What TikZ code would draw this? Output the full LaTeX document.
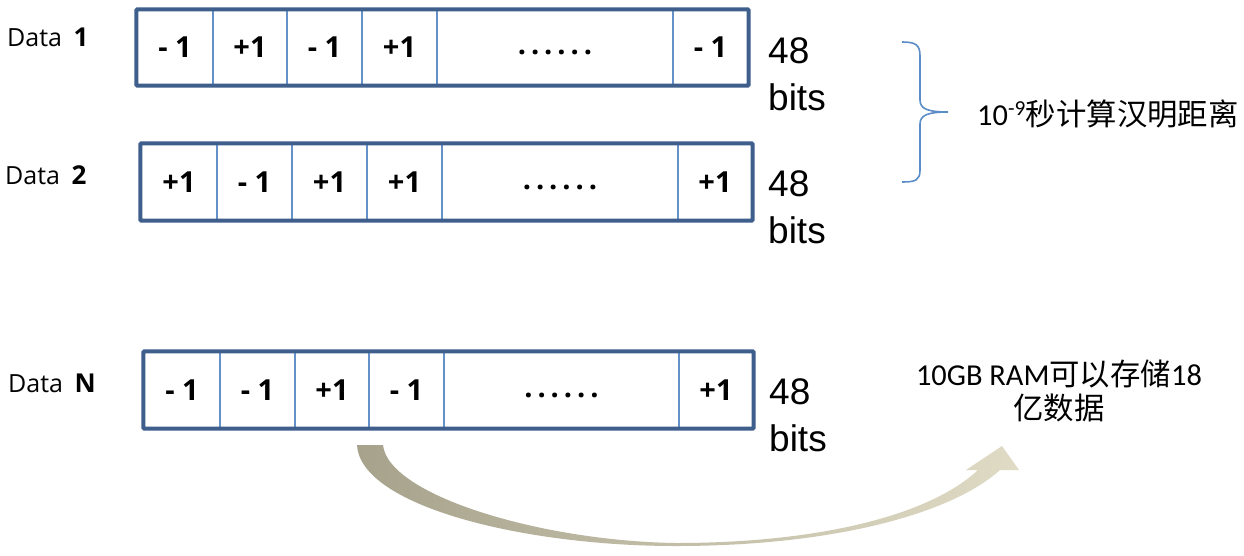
\documentclass[tikz,border=0pt]{standalone}
\usepackage{fontspec}
\newfontfamily\osans{Open Sans}
\newfontfamily\arialf{Liberation Sans}
\newfontfamily\calf{Carlito}
\newfontfamily\cjkf{Noto Sans CJK SC}
\newfontfamily\dotf[LetterSpace=17]{Open Sans}
\definecolor{boxblue}{RGB}{62,94,140}
\definecolor{divblue}{RGB}{100,145,200}
\definecolor{braceblue}{RGB}{91,141,201}
\definecolor{arrowL}{RGB}{166,162,140}
\definecolor{arrowR}{RGB}{224,219,196}
\newcommand\datarow[4]{%
  \foreach \a/\b/\t [count=\i] in {#4} {
    \node[cellbox, minimum width={(\b-\a)*1pt}, minimum height={(#3-#2)*1pt}]
      (#1c\i) at ({(\a+\b)/2},{(#2+#3)/2}) {\t};
  }
  \draw[outerbox] (#1c1.north west) rectangle (#1c6.south east);
}
\newcommand\dotstxt{\raisebox{-7pt}[0pt][0pt]{\dotf\bfseries ......}}
\begin{document}
\begin{tikzpicture}[x=1pt,y=-1pt,
  cellbox/.style={draw=divblue, line width=1.3pt, inner sep=0pt,
    font=\osans\bfseries\fontsize{29}{32}\selectfont},
  outerbox/.style={draw=boxblue, line width=4pt, rounded corners=1pt},
  datalbl/.style={anchor=base west, inner sep=0pt, font=\osans\fontsize{25}{30}\selectfont},
  bitslbl/.style={anchor=north west, inner sep=0pt, align=left,
    font=\arialf\fontsize{37}{47}\selectfont},
  cjklbl/.style={inner sep=0pt, font=\fontsize{30.4}{34}\selectfont},
  bracepath/.style={draw=braceblue, line width=1.6pt},
]
\useasboundingbox (0,0) rectangle (1244,555);
\fill[white] (0,0) rectangle (1244,555);

% rows
\datarow{ra}{10}{85}{137/213/{- 1},213/287/{+1},287/362/{- 1},362/437/{+1},437/673/{\dotstxt},673/748/{- 1}}
\datarow{rb}{144}{220}{141/217/{+1},217/292/{- 1},292/367/{+1},367/442/{+1},442/678/{\dotstxt},678/752/{+1}}
\datarow{rn}{352}{428}{144/220/{- 1},220/295/{- 1},295/369/{+1},369/444/{- 1},444/679/{\dotstxt},679/753/{+1}}

% labels
\node[datalbl] (d1) at (7,46) {Data\ \kern5pt{\bfseries\fontsize{26}{30}\selectfont 1}};
\node[datalbl] (d2) at (5,184) {Data\ \kern5pt{\bfseries\fontsize{26}{30}\selectfont 2}};
\node[datalbl] (dn) at (8,392) {Data\ \kern5pt{\bfseries\fontsize{26}{30}\selectfont N}};

\node[bitslbl] (b1) at (768,37) {48\\bits};
\node[bitslbl] (b2) at (768,170) {48\\bits};
\node[bitslbl] (bn) at (769,378) {48\\bits};

% brace
\draw[bracepath] (902,42) .. controls (916,42) and (920,45) .. (920,56) -- (920,100)
  .. controls (920,109) and (928,112) .. (948,112)
  .. controls (928,112) and (920,115) .. (920,124) -- (920,170)
  .. controls (920,180) and (916,182) .. (902,182);

\node[cjklbl, anchor=base west] (ham) at (977,125)
  {{\calf 10}\textsuperscript{\calf -9}{\cjkf 秒计算汉明距离}};

\node[cjklbl, align=center] (ram) at (1059,391)
  {{\calf 10GB RAM}{\cjkf 可以存储}{\calf 18}\\{\cjkf 亿数据}};

% curved arrow
\shade[left color=arrowL, right color=arrowR]
  (357,445) .. controls (360,505) and (520,546) .. (676,546)
  .. controls (830,546) and (950,515) .. (1000,470)
  -- (1019,470) -- (1002,446) -- (966,470) -- (978,470)
  .. controls (930,515) and (820,543) .. (676,543)
  .. controls (540,541) and (388,495) .. (383,445) -- cycle;
\end{tikzpicture}
\end{document}
